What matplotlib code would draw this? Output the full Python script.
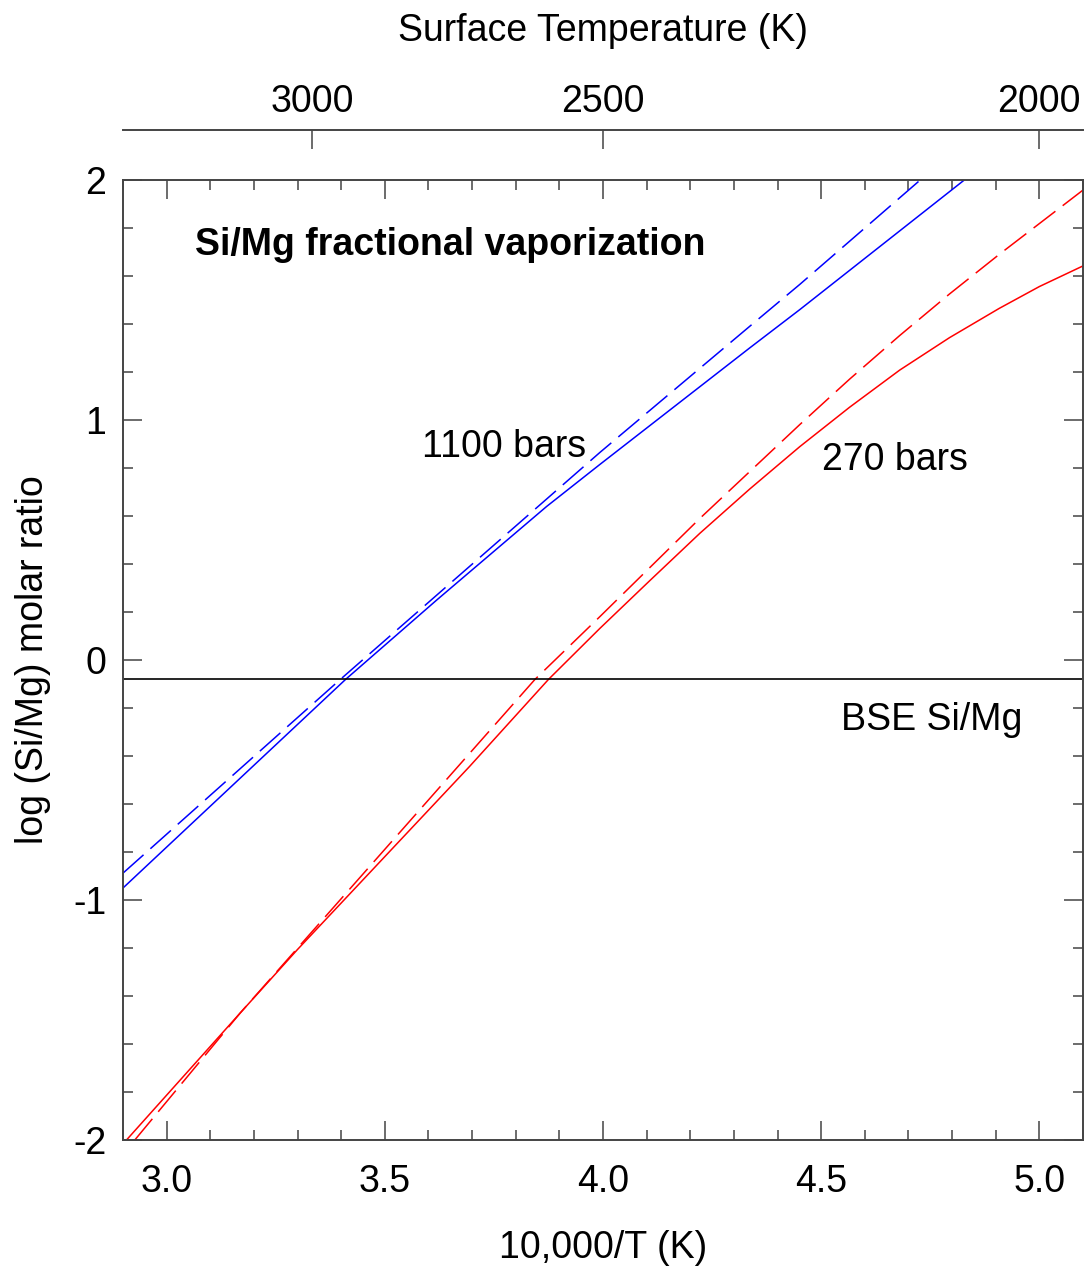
import numpy as np
import matplotlib
matplotlib.use("Agg")
import matplotlib.pyplot as plt

plt.rcParams['font.family'] = ['Liberation Sans', 'DejaVu Sans']
plt.rcParams['axes.unicode_minus'] = False

# values (x = 10,000/T, y = log Si/Mg)
blue_solid_x = [2.900, 3.410, 3.619, 3.871, 3.993, 4.336, 4.451, 4.828]
blue_solid_y = [-0.950, -0.081, 0.250, 0.640, 0.815, 1.300, 1.460, 2.000]
blue_dash_x = [2.900, 3.398, 3.993, 4.336, 4.451, 4.727]
blue_dash_y = [-0.888, -0.081, 0.865, 1.390, 1.565, 2.000]
red_solid_x = [2.908, 3.169, 3.299, 3.694, 3.875, 3.993, 4.108, 4.222, 4.336,
               4.451, 4.565, 4.680, 4.794, 4.908, 5.000, 5.100]
red_solid_y = [-2.000, -1.470, -1.208, -0.444, -0.081, 0.132, 0.332, 0.528, 0.712,
               0.889, 1.053, 1.208, 1.343, 1.465, 1.556, 1.642]
red_dash_x = [2.927, 3.169, 3.844, 3.993, 4.222, 4.451, 4.565, 4.680, 4.794, 4.908, 5.100]
red_dash_y = [-2.000, -1.470, -0.081, 0.181, 0.590, 0.981, 1.170, 1.352, 1.525, 1.690, 1.958]
bse_ratio = -0.081

temp_ticks = [3000, 2500, 2000]
x_ticks = [3.0, 3.5, 4.0, 4.5, 5.0]
y_ticks = [-2, -1, 0, 1, 2]

axc = '#444444'
fs = 27

fig = plt.figure(figsize=(10.85, 12.68), dpi=100)
ax = fig.add_axes([123/1085, 128/1268, 960/1085, 960/1268])

ax.plot(blue_solid_x, blue_solid_y, color='blue', lw=1.1)
ax.plot(blue_dash_x, blue_dash_y, color='blue', lw=1.1, ls=(0, (18, 6)))
ax.plot(red_solid_x, red_solid_y, color='red', lw=1.1)
ax.plot(red_dash_x, red_dash_y, color='red', lw=1.1, ls=(0, (18, 6)))
ax.axhline(bse_ratio, color='black', lw=1.2)

ax.set_xlim(2.9, 5.1)
ax.set_ylim(-2, 2)
ax.set_xticks(x_ticks)
ax.set_xticklabels(['%.1f' % v for v in x_ticks])
ax.set_xticks(np.arange(2.9, 5.11, 0.1), minor=True)
ax.set_yticks(y_ticks)
ax.set_yticklabels([str(v) for v in y_ticks])
ax.set_yticks(np.arange(-2, 2.01, 0.2), minor=True)

for s in ax.spines.values():
    s.set_color(axc)
    s.set_linewidth(1.4)
ax.tick_params(which='both', direction='in', top=True, right=True,
               color=axc, width=1.1, labelsize=fs)
ax.tick_params(which='major', length=14)
ax.tick_params(which='minor', length=7)
ax.tick_params(axis='x', which='major', pad=17)
ax.tick_params(axis='y', which='major', pad=12)

ax.set_xlabel('10,000/T (K)', fontsize=fs, labelpad=22)
ax.set_ylabel('log (Si/Mg) molar ratio', fontsize=fs, labelpad=16)

# temperature axis drawn above the frame
top = ax.secondary_xaxis(1 + 50/960, functions=(lambda v: 10000/v, lambda v: 10000/v))
top.set_xticks(temp_ticks)
top.set_xticklabels([str(t) for t in temp_ticks])
top.minorticks_off()
top.tick_params(direction='in', length=14, width=1.1, color=axc, labelsize=fs, pad=7)
top.spines['top'].set_color(axc)
top.spines['top'].set_linewidth(1.4)
top.set_xlabel('Surface Temperature (K)', fontsize=fs, labelpad=31)

ax.text(3.066, 1.73, 'Si/Mg fractional vaporization', fontsize=fs,
        fontweight='bold', va='center', ha='left')
ax.text(3.586, 0.8875, '1100 bars', fontsize=fs, va='center', ha='left')
ax.text(4.503, 0.833, '270 bars', fontsize=fs, va='center', ha='left')
ax.text(4.545, -0.25, 'BSE Si/Mg', fontsize=fs, va='center', ha='left')

fig.savefig('out.png', dpi=100)
